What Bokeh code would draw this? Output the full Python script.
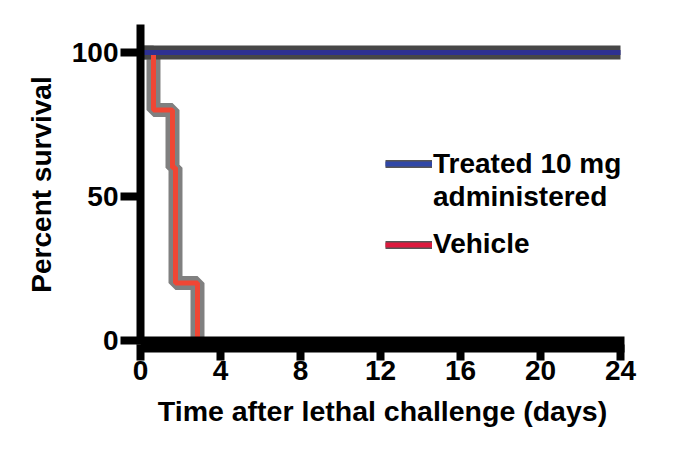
from bokeh.plotting import figure
from bokeh.models import Legend, LegendItem, Range1d, FixedTicker, ColumnDataSource
from bokeh.embed import file_html
from bokeh.resources import INLINE

# ---- data ----
days_treated = [0, 24]
surv_treated = [100, 100]
days_control = [0, 0.65, 1.6, 1.75, 2.85]
surv_control = [100, 80, 60, 20, 0]
x_ticks = [0, 4, 8, 12, 16, 20, 24]
y_ticks = [0, 50, 100]
legend_line1 = "Treated 10 mg"
legend_line2 = "administered"
legend_control = "Vehicle"
x_title = "Time after lethal challenge (days)"
y_title = "Percent survival"

FONT = "Liberation Sans"
NAN = float("nan")

p = figure(width=680, height=450,
           x_range=Range1d(0, 24.2), y_range=Range1d(-1.39, 109.7),
           output_backend="svg", toolbar_location=None,
           min_border_left=140, min_border_right=56,
           min_border_top=24, min_border_bottom=106)
p.outline_line_color = None
p.xgrid.visible = False
p.ygrid.visible = False
p.background_fill_color = "white"
p.border_fill_color = "white"

src_t = ColumnDataSource(dict(x=days_treated, y=surv_treated))
src_c = ColumnDataSource(dict(x=days_control, y=surv_control))

# outlines first, then coloured lines
p.step("x", "y", source=src_c, mode="after", line_color="#808080", line_width=14)
p.step("x", "y", source=src_t, mode="after", line_color="#474747", line_width=14)
p.step("x", "y", source=src_c, mode="after", line_color="#f04634", line_width=5)
p.step("x", "y", source=src_t, mode="after", line_color="#2e3192", line_width=5)

# legend sample renderers (placeholder rows that draw nothing in the plot)
lg_src = ColumnDataSource(dict(x=[NAN], y=[NAN]))
lg_gray_b = p.line("x", "y", source=lg_src, line_color="#555555", line_width=8)
lg_blue = p.line("x", "y", source=lg_src, line_color="#3047a6", line_width=5)
lg_none = p.line("x", "y", source=lg_src, line_alpha=0)
lg_gray_r = p.line("x", "y", source=lg_src, line_color="#555555", line_width=8)
lg_red = p.line("x", "y", source=lg_src, line_color="#dc1a3e", line_width=5)

# axes
for ax in (p.xaxis[0], p.yaxis[0]):
    ax.axis_line_color = "black"
    ax.major_tick_line_color = "black"
    ax.major_tick_line_width = 8
    ax.major_tick_in = 0
    ax.minor_tick_line_color = None
    ax.major_label_text_font = FONT
    ax.major_label_text_font_style = "bold"
    ax.major_label_text_font_size = "28px"
    ax.major_label_text_color = "black"
    ax.axis_label_text_font = FONT
    ax.axis_label_text_font_style = "bold"
    ax.axis_label_text_color = "black"

p.xaxis.ticker = FixedTicker(ticks=x_ticks)
p.yaxis.ticker = FixedTicker(ticks=y_ticks)
p.xaxis.axis_line_width = 16
p.xaxis.major_tick_out = 16
p.xaxis.major_label_standoff = 0
p.xaxis.axis_label = x_title
p.xaxis.axis_label_text_font_size = "28.5px"
p.xaxis.axis_label_standoff = 12

p.yaxis.axis_line_width = 8
p.yaxis.major_tick_out = 20
p.yaxis.major_label_standoff = 2
p.yaxis.axis_label = y_title
p.yaxis.axis_label_text_font_size = "28px"
p.yaxis.axis_label_standoff = 12

def make_legend(items, loc):
    lg = Legend(items=items, location=loc, orientation="vertical",
                glyph_width=47, glyph_height=33, label_height=33,
                label_standoff=1, spacing=0, padding=0, margin=0,
                border_line_color=None, background_fill_alpha=0,
                label_text_font=FONT, label_text_font_style="bold",
                label_text_font_size="28px", label_text_color="black")
    return lg

leg_a = make_legend([LegendItem(label=legend_line1, renderers=[lg_gray_b, lg_blue]),
                     LegendItem(label=legend_line2, renderers=[lg_none])], (245, 131))
leg_b = make_legend([LegendItem(label=legend_control, renderers=[lg_gray_r, lg_red])], (245, 83.5))
p.add_layout(leg_a)
p.add_layout(leg_b)

open("out.html", "w").write(file_html(p, INLINE))
